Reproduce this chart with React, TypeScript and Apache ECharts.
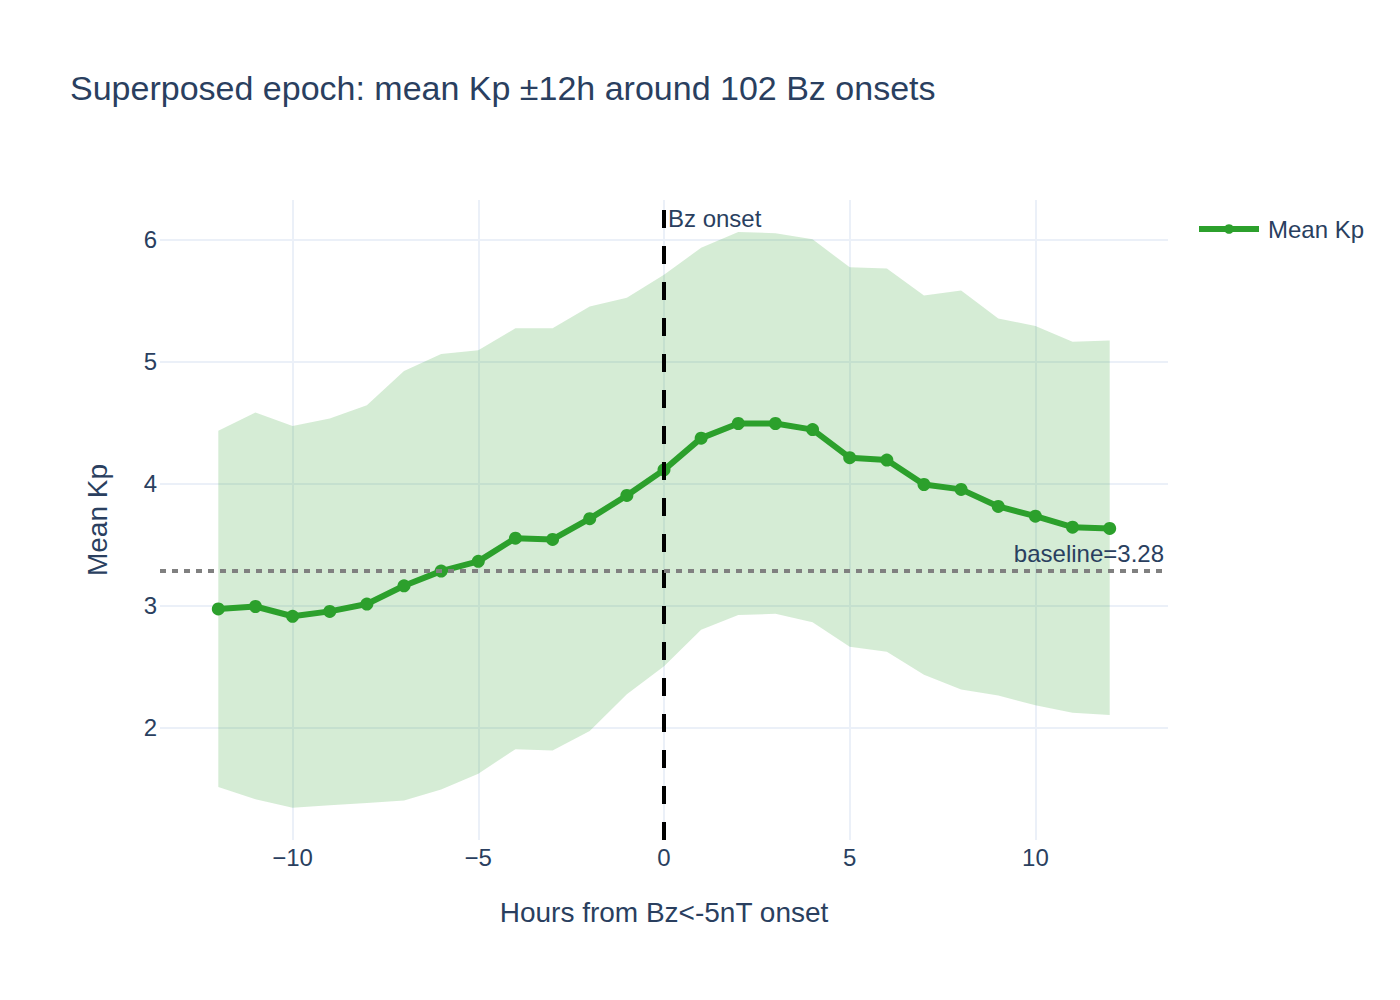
import React, { useEffect, useRef } from "react";
import * as echarts from "echarts";

const hours = [-12, -11, -10, -9, -8, -7, -6, -5, -4, -3, -2, -1, 0, 1, 2, 3, 4, 5, 6, 7, 8, 9, 10, 11, 12];
const meanKp = [2.97, 2.99, 2.91, 2.95, 3.01, 3.16, 3.28, 3.36, 3.55, 3.54, 3.71, 3.9, 4.11, 4.37, 4.49, 4.49, 4.44, 4.21, 4.19, 3.99, 3.95, 3.81, 3.73, 3.64, 3.63];
const upperKp = [4.43, 4.58, 4.47, 4.53, 4.64, 4.92, 5.06, 5.09, 5.27, 5.27, 5.45, 5.52, 5.71, 5.93, 6.06, 6.05, 6.0, 5.77, 5.76, 5.54, 5.58, 5.35, 5.29, 5.16, 5.17];
const lowerKp = [1.51, 1.41, 1.34, 1.36, 1.38, 1.4, 1.49, 1.62, 1.82, 1.81, 1.97, 2.27, 2.5, 2.8, 2.92, 2.93, 2.86, 2.66, 2.62, 2.43, 2.31, 2.26, 2.18, 2.12, 2.1];
const baseline = 3.28;
const onsetHour = 0;

const titleText = "Superposed epoch: mean Kp ±12h around 102 Bz onsets";
const xTitle = "Hours from Bz<-5nT onset";
const yTitle = "Mean Kp";
const seriesName = "Mean Kp";

const X_MIN = -13.57;
const X_MAX = 13.57;
const Y_MIN = 1.076;
const Y_MAX = 6.322;

const FONT = "'Liberation Sans', Arial, sans-serif";
const TEXT = "#2a3f5f";
const GRID = "#EBF0F8";
const GREEN = "#2ca02c";

const minus = (v: number) => String(v).replace("-", "\u2212");

export default function App() {
  const ref = useRef<HTMLDivElement>(null);
  useEffect(() => {
    const chart = echarts.init(ref.current!, null, { renderer: "svg" });
    const option: any = {
      animation: false,
      backgroundColor: "#fff",
      textStyle: { fontFamily: FONT, color: TEXT },
      title: {
        text: titleText,
        left: 70,
        top: 71,
        padding: 0,
        textStyle: { fontSize: 34, fontWeight: "normal", color: TEXT, fontFamily: FONT },
      },
      legend: {
        data: [seriesName],
        left: 1196,
        top: 217,
        padding: 0,
        itemWidth: 60,
        itemHeight: 12,
        lineStyle: { width: 6 },
        textStyle: { fontSize: 24, color: TEXT, fontFamily: FONT, padding: [0, 0, 0, 4] },
      },
      grid: { left: 160, top: 200, width: 1008, height: 640, containLabel: false },
      xAxis: {
        type: "value",
        min: X_MIN,
        max: X_MAX,
        name: xTitle,
        nameLocation: "middle",
        nameGap: 58,
        nameTextStyle: { fontSize: 28, color: TEXT, fontFamily: FONT },
        axisLine: { show: false },
        axisTick: { show: false },
        axisLabel: {
          fontSize: 24,
          color: TEXT,
          fontFamily: FONT,
          margin: 5,
          showMinLabel: false,
          showMaxLabel: false,
          formatter: minus,
        },
        splitLine: { show: true, showMinLine: false, showMaxLine: false, lineStyle: { color: GRID, width: 2 } },
      },
      yAxis: {
        type: "value",
        min: Y_MIN,
        max: Y_MAX,
        name: yTitle,
        nameLocation: "middle",
        nameGap: 49,
        nameTextStyle: { fontSize: 28, color: TEXT, fontFamily: FONT },
        axisLine: { show: false },
        axisTick: { show: false },
        axisLabel: {
          fontSize: 24,
          color: TEXT,
          fontFamily: FONT,
          margin: 3,
          showMinLabel: false,
          showMaxLabel: false,
          formatter: minus,
        },
        splitLine: { show: true, showMinLine: false, showMaxLine: false, lineStyle: { color: GRID, width: 2 } },
      },
      series: [
        {
          name: "band",
          type: "custom",
          silent: true,
          z: 1,
          data: hours.map((h, i) => [h, lowerKp[i], upperKp[i]]),
          encode: { x: 0, y: [1, 2] },
          renderItem: (params: any, api: any) => {
            if (params.dataIndex !== 0) return null;
            const top = hours.map((h, i) => api.coord([h, upperKp[i]]));
            const bottom = hours.map((h, i) => api.coord([h, lowerKp[i]])).reverse();
            return {
              type: "polygon",
              shape: { points: top.concat(bottom) },
              style: { fill: "rgba(44,160,44,0.2)", stroke: "none" },
            };
          },
        },
        {
          name: seriesName,
          type: "line",
          data: hours.map((h, i) => [h, meanKp[i]]),
          symbol: "circle",
          symbolSize: 13,
          itemStyle: { color: GREEN },
          lineStyle: { color: GREEN, width: 6 },
          z: 3,
          markLine: {
            silent: true,
            symbol: ["none", "none"],
            z: 5,
            data: [
              {
                xAxis: onsetHour,
                lineStyle: { color: "#000", width: 4, type: [18, 18] },
                label: { show: false },
              },
              {
                yAxis: baseline,
                lineStyle: { color: "#808080", width: 4, type: [6, 6] },
                label: {
                  show: true,
                  position: "insideEndTop",
                  formatter: "baseline=" + baseline.toFixed(2),
                  fontSize: 24,
                  color: TEXT,
                  fontFamily: FONT,
                  distance: [4, 6],
                },
              },
            ],
          },
        },
      ],
    };
    chart.setOption(option);
    const p = chart.convertToPixel({ gridIndex: 0 }, [onsetHour, Y_MAX]) as number[];
    chart.setOption({
      graphic: [
        {
          type: "text",
          x: p[0] + 4,
          y: p[1] + 18,
          z: 10,
          style: {
            text: "Bz onset",
            fill: TEXT,
            fontSize: 24,
            fontFamily: FONT,
            verticalAlign: "middle",
            align: "left",
          },
        },
      ],
    });
    return () => chart.dispose();
  }, []);
  return (
    <div
      ref={ref}
      style={{ position: "fixed", left: 0, top: 0, width: 1400, height: 1000, background: "#fff" }}
    />
  );
}
